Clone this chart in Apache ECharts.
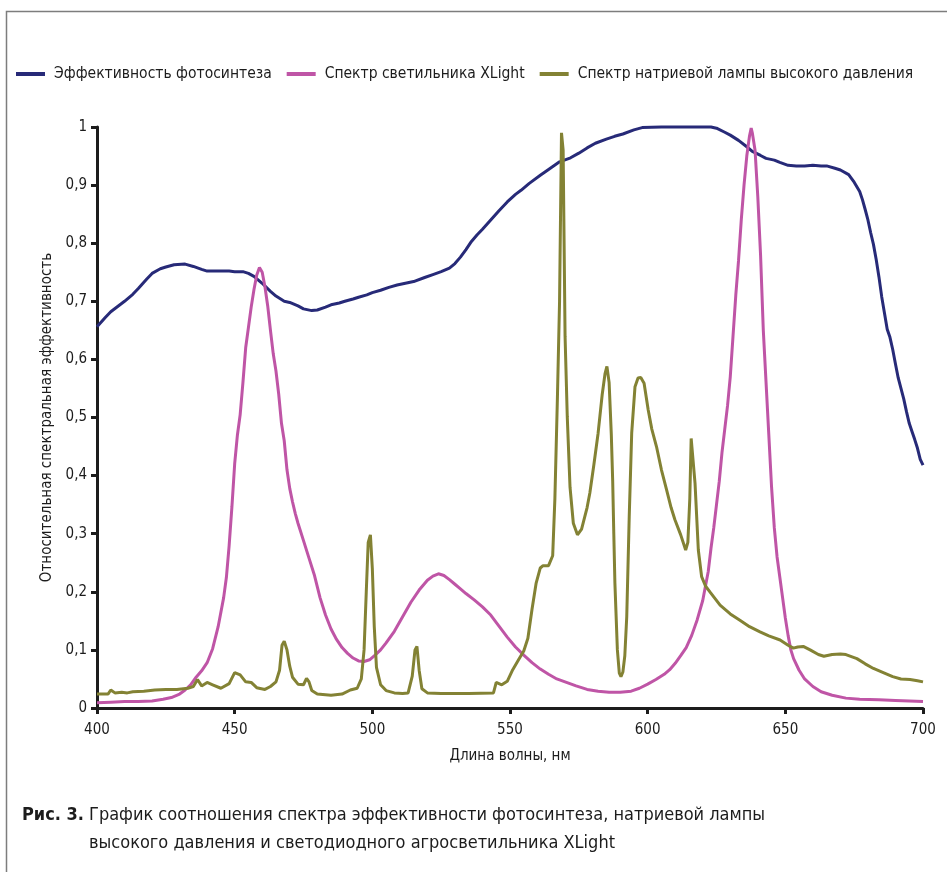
<!DOCTYPE html>
<html>
<head>
<meta charset="utf-8">
<title>Рис. 3</title>
<script src="https://cdn.jsdelivr.net/npm/echarts@6.0.0/dist/echarts.min.js"></script>
<style>
    html, body { margin: 0; padding: 0; background: #fff; }
    #chart { width: 947px; height: 872px; }
</style>
</head>
<body>
<div id="chart"></div>
<script>
// Эффективность фотосинтеза
var photoNm = [400, 403, 405, 410, 413, 415, 418, 420, 423, 425, 428, 432, 435, 438, 440, 445, 448, 450, 453, 455, 457, 460, 463, 465, 468, 470, 473, 475, 478, 480, 483, 485, 488, 490, 493, 495, 498, 500, 503, 506, 509, 512, 515, 519, 522, 525, 528, 530, 532, 534, 536, 538, 540, 543, 546, 549, 552, 554, 557, 561, 564, 568, 572, 575, 578, 581, 585, 588, 591, 595, 598, 605, 612, 620, 623, 625, 628, 630, 633, 636, 638, 641, 643, 646, 648, 651, 654, 657, 660, 663, 665, 668, 670, 673, 675, 677, 678, 679, 680, 681, 682, 683, 684, 685, 686, 687, 688, 689, 690, 691, 692, 693, 694, 695, 696, 697, 698, 699, 700];
var photoVal = [0.656, 0.672, 0.682, 0.700, 0.712, 0.722, 0.738, 0.748, 0.756, 0.759, 0.763, 0.764, 0.760, 0.755, 0.752, 0.752, 0.752, 0.751, 0.751, 0.748, 0.743, 0.731, 0.717, 0.709, 0.700, 0.698, 0.692, 0.687, 0.684, 0.685, 0.690, 0.694, 0.697, 0.700, 0.704, 0.707, 0.711, 0.715, 0.719, 0.724, 0.728, 0.731, 0.734, 0.741, 0.746, 0.751, 0.757, 0.765, 0.776, 0.789, 0.803, 0.814, 0.824, 0.840, 0.856, 0.871, 0.884, 0.891, 0.903, 0.917, 0.927, 0.940, 0.947, 0.955, 0.964, 0.972, 0.979, 0.984, 0.988, 0.995, 0.999, 1.0, 1.0, 1.0, 1.0, 0.998, 0.991, 0.986, 0.977, 0.966, 0.958, 0.951, 0.946, 0.943, 0.939, 0.934, 0.933, 0.933, 0.934, 0.933, 0.933, 0.929, 0.926, 0.918, 0.905, 0.889, 0.875, 0.858, 0.840, 0.818, 0.798, 0.772, 0.742, 0.708, 0.680, 0.652, 0.638, 0.617, 0.592, 0.568, 0.550, 0.532, 0.510, 0.490, 0.476, 0.462, 0.447, 0.428, 0.418];

// Спектр светильника XLight
var xlightNm = [400, 405, 410, 415, 420, 424, 427, 430, 432, 434, 436, 438, 440, 442, 444, 446, 447, 448, 449, 450, 451, 452, 453, 454, 455, 456, 457, 458, 459, 460, 461, 462, 463, 464, 465, 466, 467, 468, 469, 470, 471, 472, 473, 475, 477, 479, 481, 483, 485, 487, 489, 491, 493, 495, 497, 499, 501, 503, 505, 508, 511, 514, 517, 520, 522, 524, 526, 528, 530, 532, 534, 537, 540, 543, 546, 549, 552, 555, 558, 561, 564, 567, 570, 574, 578, 582, 586, 590, 594, 597, 600, 603, 606, 608, 610, 612, 614, 616, 618, 620, 622, 623, 624, 625, 626, 627, 628, 629, 630, 631, 632, 633, 634, 635, 636, 637, 637.6, 638, 639, 640, 641, 642, 643, 644, 645, 646, 647, 648, 649, 650, 651, 652, 653, 655, 657, 660, 663, 667, 672, 677, 684, 690, 695, 700];
var xlightVal = [0.009, 0.010, 0.011, 0.011, 0.012, 0.015, 0.018, 0.024, 0.031, 0.040, 0.053, 0.064, 0.078, 0.102, 0.140, 0.190, 0.225, 0.280, 0.346, 0.420, 0.470, 0.505, 0.560, 0.620, 0.655, 0.690, 0.720, 0.745, 0.758, 0.750, 0.725, 0.692, 0.650, 0.610, 0.580, 0.540, 0.490, 0.460, 0.410, 0.378, 0.355, 0.335, 0.318, 0.288, 0.258, 0.228, 0.190, 0.160, 0.136, 0.118, 0.104, 0.094, 0.086, 0.081, 0.080, 0.083, 0.091, 0.100, 0.112, 0.132, 0.157, 0.182, 0.203, 0.220, 0.227, 0.231, 0.228, 0.221, 0.213, 0.205, 0.197, 0.186, 0.174, 0.160, 0.141, 0.122, 0.105, 0.091, 0.078, 0.067, 0.058, 0.050, 0.045, 0.038, 0.032, 0.029, 0.027, 0.027, 0.029, 0.034, 0.041, 0.049, 0.058, 0.066, 0.077, 0.090, 0.104, 0.125, 0.152, 0.185, 0.235, 0.275, 0.310, 0.350, 0.390, 0.440, 0.480, 0.520, 0.570, 0.640, 0.710, 0.770, 0.840, 0.900, 0.950, 0.985, 0.998, 0.990, 0.960, 0.880, 0.780, 0.650, 0.560, 0.470, 0.380, 0.310, 0.260, 0.225, 0.190, 0.155, 0.125, 0.100, 0.085, 0.065, 0.050, 0.037, 0.028, 0.022, 0.017, 0.015, 0.014, 0.013, 0.012, 0.011];

// Спектр натриевой лампы высокого давления
var hpsNm = [400, 404, 405, 406.5, 409, 411, 413, 417, 421, 425, 429, 433, 435, 436.5, 438, 440, 442, 445, 448, 450, 452, 454, 456, 458, 461, 463, 465, 466.3, 467.2, 468, 469, 470, 471, 473, 475, 476.1, 477, 478, 480, 485, 489, 492, 494.5, 496, 497, 497.8, 498.5, 499.3, 500, 500.7, 501.5, 503, 505, 508, 511, 513, 514.5, 515.5, 516.2, 517, 518, 520, 525, 535, 544, 545, 547, 549, 551, 553, 555, 556.5, 558, 559.5, 561, 562, 564, 565.5, 566.3, 567.2, 568, 568.7, 569.3, 570, 570.8, 571.8, 573, 574.5, 576, 578, 579, 580.5, 582, 583.5, 584.5, 585.2, 586, 586.8, 587.3, 587.7, 588.1, 589, 589.7, 590.3, 591, 591.7, 592.4, 593.3, 594.2, 595.4, 596.5, 597.5, 598.7, 600.2, 601.5, 603.2, 605, 606.9, 608.5, 609.9, 612, 613.8, 614.6, 615.3, 615.8, 616.5, 617.2, 618.4, 619.6, 621, 622.6, 626.3, 630, 633.5, 637, 640.8, 644, 648.1, 651, 652.9, 654.5, 656.5, 659, 662, 664, 667, 670, 672, 676, 679, 682, 686, 689, 692, 695.3, 698, 700];
var hpsVal = [0.024, 0.024, 0.031, 0.026, 0.027, 0.026, 0.028, 0.029, 0.031, 0.032, 0.032, 0.034, 0.037, 0.049, 0.038, 0.044, 0.040, 0.034, 0.042, 0.061, 0.057, 0.045, 0.044, 0.035, 0.032, 0.037, 0.045, 0.065, 0.108, 0.115, 0.100, 0.072, 0.053, 0.041, 0.040, 0.051, 0.045, 0.030, 0.024, 0.022, 0.024, 0.031, 0.034, 0.050, 0.100, 0.200, 0.285, 0.298, 0.240, 0.140, 0.070, 0.040, 0.030, 0.026, 0.025, 0.026, 0.055, 0.100, 0.106, 0.065, 0.033, 0.026, 0.025, 0.025, 0.026, 0.044, 0.040, 0.046, 0.066, 0.082, 0.098, 0.120, 0.170, 0.215, 0.241, 0.245, 0.245, 0.262, 0.360, 0.530, 0.700, 0.990, 0.960, 0.640, 0.501, 0.380, 0.318, 0.298, 0.308, 0.345, 0.370, 0.420, 0.473, 0.540, 0.575, 0.588, 0.560, 0.470, 0.390, 0.300, 0.215, 0.100, 0.060, 0.054, 0.062, 0.090, 0.157, 0.329, 0.473, 0.553, 0.568, 0.569, 0.559, 0.513, 0.480, 0.450, 0.410, 0.375, 0.345, 0.324, 0.298, 0.272, 0.285, 0.360, 0.464, 0.462, 0.387, 0.272, 0.226, 0.210, 0.200, 0.177, 0.162, 0.151, 0.140, 0.131, 0.124, 0.117, 0.108, 0.103, 0.105, 0.106, 0.100, 0.092, 0.089, 0.092, 0.093, 0.092, 0.085, 0.076, 0.068, 0.060, 0.054, 0.050, 0.049, 0.047, 0.045];

var seriesNames = ['Эффективность фотосинтеза', 'Спектр светильника XLight', 'Спектр натриевой лампы высокого давления'];
var seriesColors = ['#272a78', '#bf55a6', '#838234'];

var font = '"DejaVu Sans Condensed", "DejaVu Sans", sans-serif';
var ink = '#1c1c1c';

function pairs(xs, ys) {
    return xs.map(function (x, i) { return [x, ys[i]]; });
}

function lineSeries(idx, xs, ys) {
    return {
        name: seriesNames[idx],
        type: 'line',
        data: pairs(xs, ys),
        showSymbol: false,
        clip: false,
        color: seriesColors[idx],
        lineStyle: { width: 3, color: seriesColors[idx] },
        z: idx === 0 ? 2 : 3
    };
}

var chart = echarts.init(document.getElementById('chart'));
var option = {
    animation: false,
    backgroundColor: '#fff',
    legend: {
        left: 16,
        top: 66,
        padding: 0,
        icon: 'rect',
        itemWidth: 29,
        itemHeight: 4,
        itemGap: 15,
        data: seriesNames,
        textStyle: { fontFamily: font, fontSize: 15.5, color: ink, padding: [0, 0, 0, 4] }
    },
    grid: {
        left: 97,
        right: 24,
        top: 127,
        bottom: 164,
        outerBoundsMode: 'none'
    },
    xAxis: {
        type: 'value',
        min: 400,
        max: 700,
        interval: 50,
        name: 'Длина волны, нм',
        nameLocation: 'middle',
        nameGap: 41,
        nameTextStyle: { fontFamily: font, fontSize: 15, color: ink },
        axisLine: { show: true, lineStyle: { color: ink, width: 3 } },
        axisTick: { show: true, length: 6, lineStyle: { color: ink, width: 3 } },
        axisLabel: { fontFamily: font, fontSize: 15, color: ink, margin: 15 },
        splitLine: { show: false }
    },
    yAxis: {
        type: 'value',
        min: 0,
        max: 1,
        interval: 0.1,
        name: 'Относительная спектральная эффективность',
        nameLocation: 'middle',
        nameGap: 41,
        nameTextStyle: { fontFamily: font, fontSize: 15, color: ink },
        axisLine: { show: true, lineStyle: { color: ink, width: 3 } },
        axisTick: { show: true, length: 6, lineStyle: { color: ink, width: 3 } },
        axisLabel: {
            fontFamily: font, fontSize: 15, color: ink, margin: 10,
            formatter: function (v) {
                return String(Math.round(v * 10) / 10).replace('.', ',');
            }
        },
        splitLine: { show: false }
    },
    graphic: [
        {
            type: 'rect',
            silent: true,
            shape: { x: 6.5, y: 11.5, width: 1200, height: 1200 },
            style: { fill: 'none', stroke: '#7d7d7d', lineWidth: 1.5 }
        },
        {
            type: 'text',
            left: 22,
            top: 806,
            style: { text: 'Рис. 3.', fontFamily: font, fontSize: 18, fontWeight: 'bold', fill: ink }
        },
        {
            type: 'text',
            left: 89,
            top: 806,
            style: { text: 'График соотношения спектра эффективности фотосинтеза, натриевой лампы', fontFamily: font, fontSize: 18, fill: ink }
        },
        {
            type: 'text',
            left: 89,
            top: 834,
            style: { text: 'высокого давления и светодиодного агросветильника XLight', fontFamily: font, fontSize: 18, fill: ink }
        }
    ],
    series: [
        lineSeries(0, photoNm, photoVal),
        lineSeries(1, xlightNm, xlightVal),
        lineSeries(2, hpsNm, hpsVal)
    ]
};
chart.setOption(option);
</script>
</body>
</html>
